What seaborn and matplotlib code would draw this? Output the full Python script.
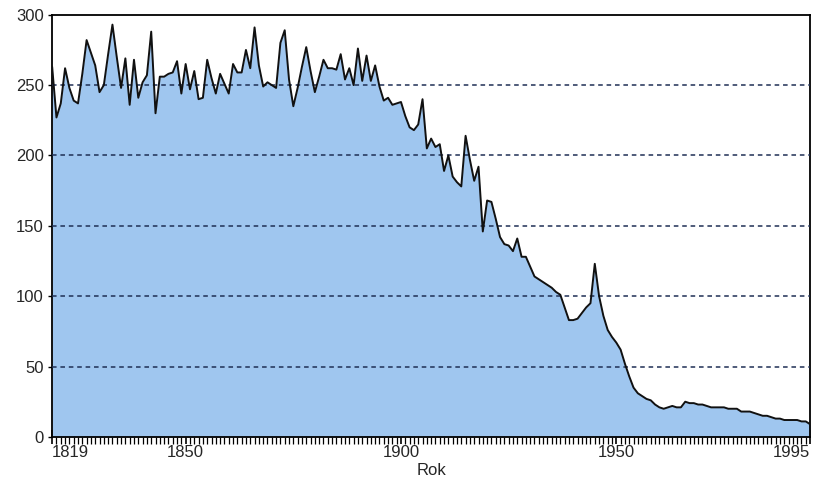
import numpy as np
import pandas as pd
import matplotlib
matplotlib.use("Agg")
import matplotlib.pyplot as plt
from matplotlib.ticker import MultipleLocator
import seaborn as sns

sns.set_style("white")
plt.rcParams['font.family'] = ['Liberation Sans', 'DejaVu Sans']

# lata 1819-1995
lata = list(range(1819, 1996))

# wartosci
w_1819_1847 = [263, 227, 237, 262, 248, 239, 237, 258, 282, 273, 264, 245, 250, 272, 293,
               270, 248, 269, 236, 268, 241, 252, 257, 288, 230, 256, 256, 258, 259]
w_1848_1876 = [267, 244, 265, 247, 260, 240, 241, 268, 255, 244, 258, 251, 244, 265, 259,
               259, 275, 262, 291, 264, 249, 252, 250, 248, 280, 289, 254, 235, 248]
w_1877_1905 = [263, 277, 260, 245, 256, 268, 262, 262, 261, 272, 254, 262, 250, 276, 253,
               271, 253, 264, 249, 239, 241, 236, 237, 238, 228, 220, 218, 222, 240]
w_1906_1929 = [205, 212, 206, 208, 189, 200, 185, 181, 178, 214, 197, 182, 192, 146, 168,
               167, 155, 142, 137, 136, 132, 141, 128, 128]
w_1930_1952 = [121, 114, 112, 110, 108, 106, 103, 101, 92, 83, 83, 84, 88, 92, 95,
               123, 100, 86, 76, 71, 67, 62, 52]
w_1953_1995 = [43, 35, 31, 29, 27, 26, 23, 21, 20, 21, 22, 21, 21, 25, 24,
               24, 23, 23, 22, 21, 21, 21, 21, 20, 20, 20, 18, 18, 18, 17,
               16, 15, 15, 14, 13, 13, 12, 12, 12, 12, 11, 11, 9]

wartosci = w_1819_1847 + w_1848_1876 + w_1877_1905 + w_1906_1929 + w_1930_1952 + w_1953_1995

x_etykiety = [1819, 1850, 1900, 1950, 1995]
y_etykiety = [0, 50, 100, 150, 200, 250, 300]

df = pd.DataFrame({"Rok": lata, "wartosc": wartosci})

fig = plt.figure(figsize=(8.15, 4.92), dpi=100)
ax = fig.add_axes([0.064, 0.112, 0.93, 0.858])

ax.fill_between(df["Rok"], df["wartosc"], 0, color="#9fc6ef", linewidth=0, zorder=1)
sns.lineplot(data=df, x="Rok", y="wartosc", ax=ax, color="#111111", linewidth=1.4, zorder=4)

# linie siatki przerywane
for y in y_etykiety[1:-1]:
    ax.axhline(y, color="#1f2f55", linestyle=(0, (3, 2.5)), linewidth=1.1, zorder=3)

ax.set_xlim(1819, 1995)
ax.set_ylim(0, 300)
ax.set_xticks(x_etykiety)
ax.xaxis.set_minor_locator(MultipleLocator(1))
ax.set_yticks(y_etykiety)
ax.tick_params(axis="x", which="both", bottom=True)
ax.tick_params(axis="y", which="major", left=True)
ax.tick_params(axis="x", which="major", direction="inout", length=10, width=1.2,
               labelsize=12, pad=1, color="black")
ax.tick_params(axis="x", which="minor", direction="out", length=5, width=0.9, color="black")
ax.tick_params(axis="y", which="major", direction="out", length=3, width=1,
               labelsize=12, pad=3, color="black")

etyk = ax.get_xticklabels()
etyk[0].set_horizontalalignment("left")
etyk[-1].set_horizontalalignment("right")

for s in ax.spines.values():
    s.set_color("black")
    s.set_linewidth(1.3)

ax.set_xlabel("Rok", fontsize=12, labelpad=2)
ax.set_ylabel("")

fig.savefig("out.png", dpi=100)
